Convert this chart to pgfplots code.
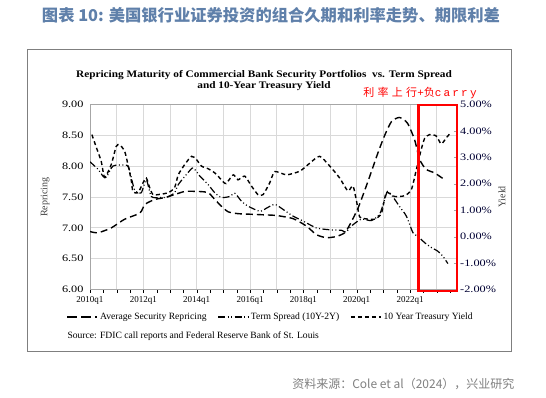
\documentclass[border=0pt]{standalone}
\usepackage{pgfplots}
\pgfplotsset{compat=1.18}
\usepackage{fontspec}
\setmainfont{Liberation Serif}
\newfontfamily\cjk{Noto Sans CJK SC}
\newfontfamily\cjkspaced[LetterSpace=30]{Noto Sans CJK SC}
\newfontfamily\widefont[FakeStretch=1.25]{Liberation Serif}
\newfontfamily\titlefont[FakeStretch=1.13]{Liberation Serif}
\newfontfamily\monofont[LetterSpace=20]{Liberation Mono}
\definecolor{titleblue}{HTML}{5F80AA}
\definecolor{gridgrey}{HTML}{D9D9D9}
\definecolor{boxgrey}{HTML}{7F7F7F}
\pgfplotsset{/pgf/number format/assume math mode=true}

\begin{document}
\begin{tikzpicture}[x=1pt,y=1pt]
\path[use as bounding box] (0,0) rectangle (546,397);
\fill[white] (0,0) rectangle (546,397);
\node[font=\cjk\bfseries\fontsize{16.3}{19}\selectfont, text=titleblue] at (271,382) {图表 10: 美国银行业证券投资的组合久期和利率走势、期限利差};
\draw[boxgrey, line width=0.8pt] (27,46) rectangle (511,348);
\node[align=center, font=\titlefont\bfseries\fontsize{10}{11.5}\selectfont] at (264,316.5) {Repricing Maturity of Commercial Bank Security Portfolios\ \ vs. Term Spread\\and 10-Year Treasury Yield};

\begin{axis}[
  at={(90pt,107.5pt)}, anchor=south west, scale only axis, width=366.7pt, height=185pt,
  xmin=2010, xmax=2023.75, ymin=6, ymax=9,
  xtick={2010,2011,...,2023},
  xticklabels={2010q1,,2012q1,,2014q1,,2016q1,,2018q1,,2020q1,,2022q1,},
  minor xtick={2010.5,2011.5,...,2023.5},
  ytick={6,6.5,...,9},
  xmajorgrids, ymajorgrids,
  grid style={gridgrey, line width=0.8pt},
  axis line style={gray!70},
  tick align=outside, xtick pos=lower,
  major tick length=3pt, minor tick length=3pt,
  xtick style={black},
  minor x tick style={black},
  ytick style={draw=none},
  xticklabel style={font=\fontsize{9}{10}\selectfont},
  yticklabel style={font=\widefont\fontsize{9.8}{10}\selectfont, /pgf/number format/.cd, fixed, fixed zerofill, precision=2},
  ylabel={Repricing},
  ylabel style={at={(axis description cs:-0.122,0.5)}, anchor=center, font=\fontsize{10}{11}\selectfont, text=black!75},
]
\addplot[black, line width=1.4pt, dash pattern=on 7pt off 4pt, smooth, tension=0.4] coordinates {
(2010.0,6.94) (2010.3,6.92) (2010.8,7.0) (2011.3,7.14) (2011.87,7.24) (2012.06,7.38) (2012.43,7.46) (2012.8,7.49) (2013.18,7.54) (2013.56,7.59) (2014.06,7.59) (2014.43,7.57) (2014.68,7.46) (2014.93,7.35) (2015.18,7.26) (2015.55,7.23) (2016.05,7.22) (2016.56,7.21) (2016.99,7.20) (2017.61,7.15) (2018.11,7.03) (2018.49,6.89) (2018.86,6.84) (2019.24,6.86) (2019.55,6.92) (2019.74,7.05) (2020.05,7.32) (2020.42,7.75) (2020.8,8.22) (2021.05,8.5) (2021.3,8.72) (2021.6,8.79) (2021.9,8.7) (2022.17,8.43) (2022.36,8.11) (2022.6,7.95) (2022.92,7.89) (2023.3,7.78)
};
\end{axis}

\begin{axis}[
  at={(90pt,107.5pt)}, anchor=south west, scale only axis, width=366.7pt, height=185pt,
  xmin=2010, xmax=2023.75, ymin=-2, ymax=5,
  axis x line=none, axis y line*=right,
  axis line style={gray!70},
  ytick={-2,-1,...,5},
  tick align=inside, major tick length=3pt,
  ytick style={gray!70},
  yticklabel={\pgfmathprintnumber[fixed,fixed zerofill,precision=2]{\tick}\%},
  yticklabel style={font=\widefont\fontsize{9.8}{10}\selectfont, text=black!80!blue},
  ylabel={Yield},
  ylabel style={at={(axis description cs:1.1235,0.5)}, anchor=center, font=\fontsize{10}{11}\selectfont, text=black!75},
  legend columns=3,
  legend style={at={(-0.072,-0.149)}, anchor=west, draw=none, fill=none, font=\fontsize{9.6}{11}\selectfont, /tikz/every even column/.append style={column sep=9pt}},
  legend image code/.code={\draw[#1, sharp plot] (0pt,0pt) -- (30pt,0pt);},
]
\addlegendimage{black, line width=1.4pt, dash pattern=on 10pt off 4pt}
\addlegendentry{Average Security Repricing}
\addplot[black, line width=1.2pt, dash pattern=on 7pt off 2.5pt on 1pt off 2.5pt on 1pt off 2.5pt, smooth, tension=0.4] coordinates {
(2010.0,2.83) (2010.3,2.55) (2010.5,2.27) (2010.62,2.25) (2010.86,2.67) (2011.3,2.71) (2011.45,2.62) (2011.67,1.78) (2011.92,1.66) (2012.11,2.15) (2012.3,1.52) (2012.6,1.48) (2012.9,1.5) (2013.17,1.66) (2013.31,1.97) (2013.68,2.43) (2013.87,2.60) (2014.12,2.29) (2014.43,1.97) (2014.68,1.66) (2014.93,1.48) (2015.24,1.52) (2015.43,1.64) (2015.68,1.34) (2015.93,1.15) (2016.37,0.96) (2016.62,1.08) (2016.93,1.22) (2017.24,1.03) (2017.61,0.78) (2017.99,0.59) (2018.49,0.33) (2018.99,0.26) (2019.43,0.24) (2019.6,0.17) (2019.8,0.40) (2020.17,0.66) (2020.55,0.61) (2020.86,0.85) (2021.05,1.41) (2021.15,1.71) (2021.3,1.59) (2021.6,1.15) (2021.86,0.78) (2022.11,0.15) (2022.3,0.01) (2022.55,-0.23) (2022.8,-0.41) (2023.04,-0.55) (2023.23,-0.74) (2023.42,-1.02)
};
\addlegendentry{Term Spread (10Y-2Y)}
\addplot[black, line width=1.4pt, dash pattern=on 4pt off 3pt, smooth, tension=0.4] coordinates {
(2010.07,3.86) (2010.24,3.37) (2010.42,2.85) (2010.55,2.25) (2010.8,2.74) (2010.98,3.41) (2011.11,3.48) (2011.3,3.23) (2011.42,2.74) (2011.55,2.11) (2011.61,1.71) (2011.8,1.66) (2011.99,2.04) (2012.11,2.22) (2012.24,1.85) (2012.36,1.59) (2012.55,1.59) (2012.92,1.66) (2013.17,1.85) (2013.31,2.34) (2013.56,2.74) (2013.81,3.04) (2013.99,2.92) (2014.18,2.67) (2014.43,2.57) (2014.68,2.41) (2014.93,2.15) (2015.1,2.01) (2015.37,2.34) (2015.55,2.15) (2015.8,2.29) (2016.05,1.92) (2016.3,1.59) (2016.49,1.59) (2016.74,2.04) (2016.93,2.46) (2017.37,2.34) (2017.87,2.48) (2018.24,2.78) (2018.61,3.04) (2018.99,2.67) (2019.36,2.22) (2019.67,1.73) (2019.86,1.92) (2020.0,1.31) (2020.11,0.75) (2020.3,0.68) (2020.67,0.66) (2020.93,0.89) (2021.11,1.66) (2021.42,1.52) (2021.8,1.55) (2022.05,1.78) (2022.24,2.55) (2022.42,3.30) (2022.55,3.72) (2022.73,3.86) (2022.98,3.81) (2023.17,3.51) (2023.36,3.74) (2023.48,3.88)
};
\addlegendentry{10 Year Treasury Yield}
\end{axis}

\draw[red, line width=2.5pt] (418.3,106) rectangle (457,292);
\node[text=red, font=\cjkspaced\fontsize{11}{12}\selectfont] at (420,304) {利率上行{\monofont +}负{\monofont carry}};
\node[anchor=west, font=\fontsize{9.6}{11}\selectfont] at (64,61.3) {Source: FDIC call reports and Federal Reserve Bank of St. Louis};
\node[anchor=east, text=gray, font=\cjk\fontsize{12}{14}\selectfont] at (518,13) {资料来源：Cole et al（2024），兴业研究};
\end{tikzpicture}
\end{document}
